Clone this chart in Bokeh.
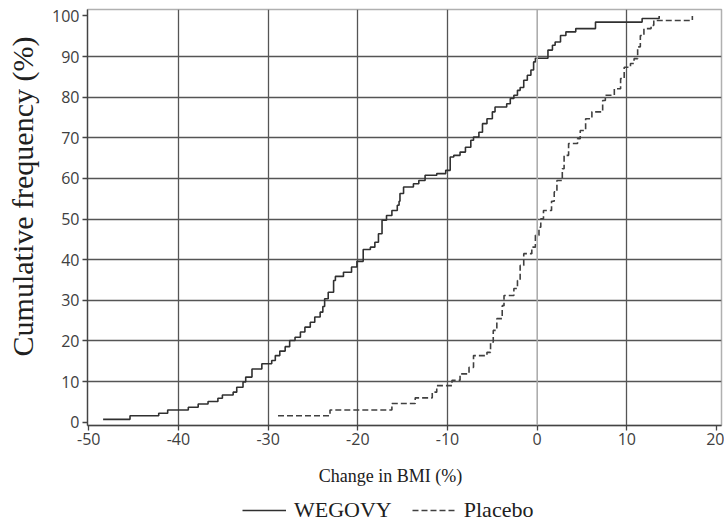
import math
from bokeh.plotting import figure
from bokeh.layouts import row, column
from bokeh.models import (Range1d, FixedTicker, Span, Label, Legend, LegendItem,
                          ColumnDataSource)
from bokeh.embed import file_html
from bokeh.resources import INLINE

# ---- data ----
wegovy_x = [-48.4, -45.4, -42.2, -41.2, -38.9, -37.8, -36.7, -35.6, -35.1, -33.9,
            -33.5, -32.8, -32.5, -31.8, -30.7, -29.6, -29.2, -28.7, -28.1, -27.6,
            -27.0, -26.4, -25.9, -25.3, -24.8, -24.2, -23.9, -23.7, -23.3, -22.7,
            -22.5, -21.6, -20.7, -20.1, -19.4, -18.6, -18.1, -17.7, -17.3, -16.8,
            -16.2, -15.6, -15.4, -15.3, -14.9, -13.8, -13.2, -12.5, -11.2, -10.2,
            -9.7, -9.3, -8.6, -8.0, -7.4, -7.1, -6.5, -6.1, -5.6, -5.0,
            -4.7, -3.4, -3.0, -2.6, -2.2, -1.9, -1.5, -1.1, -0.7, -0.4,
            -0.2, 1.2, 1.7, 2.0, 2.6, 3.2, 4.3, 6.5, 11.7, 13.6]
wegovy_y = [0.7, 1.6, 2.2, 3.0, 3.7, 4.5, 5.1, 5.9, 6.7, 7.4,
            8.6, 9.9, 11.1, 13.1, 14.4, 15.2, 16.4, 17.5, 18.6, 20.1,
            20.9, 22.2, 23.4, 24.6, 25.9, 27.1, 28.5, 30.4, 32.0, 34.9,
            35.9, 36.9, 38.2, 39.6, 42.5, 43.1, 44.3, 46.4, 49.7, 50.9,
            52.1, 53.4, 54.4, 56.3, 57.9, 58.7, 59.5, 60.8, 61.2, 62.0,
            65.3, 65.7, 66.5, 67.7, 69.4, 70.2, 71.4, 73.5, 74.7, 76.4,
            77.6, 78.4, 79.7, 80.5, 81.7, 82.4, 84.2, 85.4, 86.7, 88.7,
            89.6, 91.6, 92.8, 93.6, 95.2, 96.1, 96.9, 98.5, 99.4, 100.0]

placebo_x = [-28.9, -23.1, -16.2, -13.6, -11.7, -11.2, -9.5, -8.6, -7.6, -7.1,
             -5.6, -5.2, -4.9, -4.5, -3.9, -3.7, -2.6, -2.2, -1.9, -1.5,
             -0.6, -0.2, 0.2, 0.4, 0.7, 1.6, 1.9, 2.2, 2.8, 3.0,
             3.5, 4.5, 4.8, 5.4, 6.1, 7.3, 7.6, 8.6, 9.3, 9.7,
             10.4, 10.8, 11.2, 11.5, 11.9, 12.7, 13.0, 17.3]
placebo_y = [1.6, 3.0, 4.6, 6.0, 7.4, 9.0, 10.3, 11.9, 13.5, 16.4,
             17.2, 19.7, 22.6, 25.5, 28.7, 31.2, 32.9, 34.9, 38.6, 41.5,
             43.1, 46.0, 48.0, 50.1, 52.1, 54.4, 56.7, 59.5, 62.4, 65.7,
             68.6, 69.8, 71.8, 74.7, 76.4, 79.2, 80.5, 82.1, 84.6, 87.4,
             88.3, 89.5, 92.4, 95.2, 96.9, 97.7, 98.9, 100.0]

x_ticks = [-50, -40, -30, -20, -10, 0, 10, 20]
y_ticks = [0, 10, 20, 30, 40, 50, 60, 70, 80, 90, 100]
series_names = ["WEGOVY", "Placebo"]
x_label = "Change in BMI (%)"
y_label = "Cumulative frequency (%)"

LINE_W = dict(line_color="#303030", line_width=1.6)
LINE_P = dict(line_color="#404040", line_width=1.6, line_dash="6 3")
SERIF = "Liberation Serif"
BORDER_L, BORDER_R = 39, 3
MAIN_W = 676
FRAME_W = MAIN_W - BORDER_L - BORDER_R

# ---- main plot ----
p = figure(width=MAIN_W, height=454,
           x_range=Range1d(-50.14, 20.55), y_range=Range1d(-0.81, 101.6),
           output_backend="svg", toolbar_location=None,
           min_border_left=BORDER_L, min_border_right=BORDER_R,
           min_border_top=9, min_border_bottom=29)
p.background_fill_color = "white"
p.border_fill_color = "white"
p.outline_line_color = "#b0b0b0"
p.outline_line_width = 1.5

p.xgrid.ticker = FixedTicker(ticks=[t for t in x_ticks if t not in (-50, 0, 20)])
p.ygrid.ticker = FixedTicker(ticks=[t for t in y_ticks if t not in (0, 100)])
p.xgrid.grid_line_color = "#555555"
p.ygrid.grid_line_color = "#555555"
p.xgrid.grid_line_width = 1.3
p.ygrid.grid_line_width = 1.3
p.add_layout(Span(location=0, dimension="height", line_color="#a8a8a8", line_width=1.5))

for ax, ticks in ((p.xaxis, x_ticks), (p.yaxis, y_ticks)):
    ax.ticker = FixedTicker(ticks=ticks)
    ax.major_label_overrides = {t: str(t) for t in ticks}
    ax.axis_line_color = "#444444"
    ax.axis_line_width = 1.3
    ax.major_tick_line_color = "#444444"
    ax.major_tick_line_width = 1.3
    ax.major_tick_out = 5
    ax.major_tick_in = 0
    ax.minor_tick_line_color = None
    ax.major_label_text_font = "Open Sans"
    ax.major_label_text_font_size = "16px"
    ax.major_label_text_color = "#404040"
p.xaxis.major_label_standoff = 2
p.yaxis.major_label_standoff = 3

src_w = ColumnDataSource(dict(x=wegovy_x, y=wegovy_y))
src_p = ColumnDataSource(dict(x=placebo_x, y=placebo_y))
p.step("x", "y", source=src_w, mode="after", **LINE_W)
p.step("x", "y", source=src_p, mode="after", **LINE_P)


def blank(w, h, left=0, right=0):
    f = figure(width=w, height=h, x_range=Range1d(0, w - left - right), y_range=Range1d(0, h),
               x_axis_type=None, y_axis_type=None,
               output_backend="svg", toolbar_location=None, min_border=0,
               min_border_left=left, min_border_right=right)
    f.grid.visible = False
    f.outline_line_color = None
    f.background_fill_color = "white"
    f.border_fill_color = "white"
    return f


# ---- left strip: y axis title ----
lf = blank(48, 523)
lf.add_layout(Label(x=22, y=327, text=y_label, angle=math.pi / 2,
                    text_align="center", text_baseline="middle",
                    text_font=SERIF, text_font_size="30px", text_color="#202020"))

# ---- bottom strip (frame aligned with the main frame): x axis title and legend ----
bf = blank(MAIN_W, 69, BORDER_L, BORDER_R)
bf.add_layout(Label(x=303, y=48, text=x_label, text_align="center", text_baseline="middle",
                    text_font=SERIF, text_font_size="18px", text_color="#202020"))
nan = float("nan")
lw = bf.line(x=[nan], y=[nan], **LINE_W)   # legend proxies (draw nothing)
lp = bf.line(x=[nan], y=[nan], **LINE_P)
legend = Legend(items=[LegendItem(label=series_names[0], renderers=[lw]),
                       LegendItem(label=series_names[1], renderers=[lp])],
                orientation="horizontal", location=(155, 0),
                glyph_width=44, glyph_height=16, label_standoff=8, spacing=20,
                padding=0, margin=0, border_line_color=None, background_fill_alpha=0,
                label_text_font=SERIF, label_text_font_size="22px",
                label_text_color="#202020")
bf.add_layout(legend)

layout = row(lf, column(p, bf))
open("out.html", "w").write(file_html(layout, INLINE))
